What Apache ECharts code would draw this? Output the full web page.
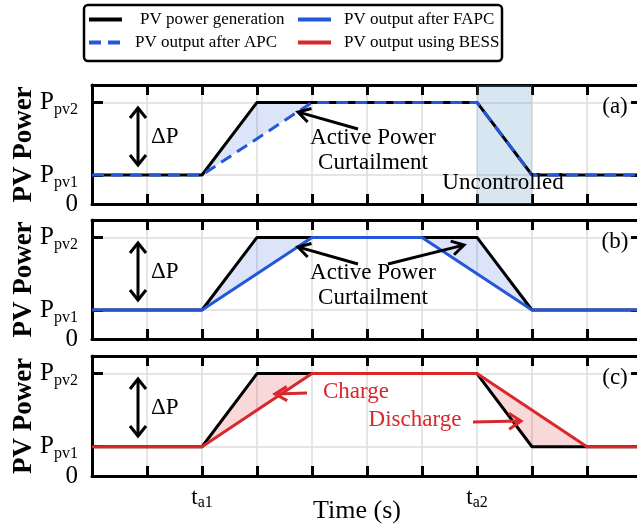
<!DOCTYPE html>
<html><head><meta charset="utf-8">
<script src="https://cdn.jsdelivr.net/npm/echarts@6/dist/echarts.min.js"></script>
<style>html,body{margin:0;padding:0;background:#fff}#c{width:637px;height:531px}</style>
</head><body><div id="c"></div>
<script>
// ---- data (time in grid units, power in relative units: Ppv1 = 2, Ppv2 = 7) ----
const genTime   = [0, 2, 3, 7, 8, 10];
const genPower  = [2, 2, 7, 7, 2, 2];
const apcTime   = [0, 2, 4, 7, 8, 10];
const apcPower  = [2, 2, 7, 7, 2, 2];
const fapcTime  = [0, 2, 4, 6, 8, 10];
const fapcPower = [2, 2, 7, 7, 2, 2];
const bessTime  = [0, 2, 4, 7, 9, 10];
const bessPower = [2, 2, 7, 7, 2, 2];
const uncontrolledRange = [7, 8];
const yTickValues = [0, 2, 7];
const yTickNames  = ['0', 'P_pv1', 'P_pv2'];
const xTickValues = [2, 7];
const xTickNames  = ['t_a1', 't_a2'];
const panelTags   = ['(a)', '(b)', '(c)'];

const FONT = '"Liberation Serif", "Times New Roman", serif';
const BLUE = '#2356d8', RED = '#d9282b';
const grids = [
  {left: 92, top: 85, width: 550, height: 119, outerBoundsMode: 'none'},
  {left: 92, top: 220, width: 550, height: 119, outerBoundsMode: 'none'},
  {left: 92, top: 356, width: 550, height: 120, outerBoundsMode: 'none'}
];
const offs = grids.map(g => g.top - 85);

function pairs(t, v) { return t.map((x, i) => [x, v[i]]); }
function subLabel(name, big, small) {
  const parts = name.split('_');
  if (parts.length === 1) return '{' + big + '|' + parts[0] + '}';
  return '{' + big + '|' + parts[0] + '}{' + small + '|' + parts[1] + '}';
}

const black3 = {color: '#000', width: 3};
const xAxes = [], yAxes = [];
grids.forEach((g, i) => {
  const last = i === grids.length - 1;
  xAxes.push({
    type: 'value', gridIndex: i, min: 0, max: 10, interval: 1, position: 'bottom',
    axisLine: {show: true, onZero: false, lineStyle: black3},
    axisTick: {show: true, inside: true, length: 10, lineStyle: black3},
    splitLine: {show: true, lineStyle: {color: '#dcdcdc', width: 1.5}},
    axisLabel: last ? {
      show: true, customValues: xTickValues, margin: 8, hideOverlap: false,
      formatter: v => subLabel(xTickNames[xTickValues.indexOf(v)] || '', 't', 's'),
      rich: {
        t: {fontFamily: FONT, fontSize: 23, color: '#000'},
        s: {fontFamily: FONT, fontSize: 16, color: '#000', padding: [11, 0, 0, 0]}
      }
    } : {show: false},
    name: last ? 'Time (s)' : '', nameLocation: 'middle', nameGap: 22, nameMoveOverlap: false,
    nameTextStyle: {fontFamily: FONT, fontSize: 26, color: '#000', padding: [0, 20, 0, 0]}
  });
  xAxes.push({
    type: 'value', gridIndex: i, min: 0, max: 10, interval: 1, position: 'top',
    axisLine: {show: true, onZero: false, lineStyle: black3},
    axisTick: {show: true, inside: true, length: 10, lineStyle: black3},
    splitLine: {show: false}, axisLabel: {show: false}
  });
  yAxes.push({
    type: 'value', gridIndex: i, min: 0, max: 8.2, position: 'left',
    axisLine: {show: true, onZero: false, lineStyle: black3},
    axisTick: {show: true, inside: true, length: 11, customValues: yTickValues, lineStyle: black3},
    splitLine: {show: true, lineStyle: {color: '#dcdcdc', width: 1.5}},
    axisLabel: {
      show: true, customValues: yTickValues, margin: 14,
      showMinLabel: true, showMaxLabel: true, hideOverlap: false,
      formatter: v => subLabel(yTickNames[yTickValues.indexOf(v)] || '', 'p', 's'),
      rich: {
        p: {fontFamily: FONT, fontSize: 25, color: '#000'},
        s: {fontFamily: FONT, fontSize: 16, color: '#000', padding: [15, 0, 0, 0]}
      }
    },
    name: 'PV Power', nameLocation: 'middle', nameGap: 54, nameMoveOverlap: false,
    nameTextStyle: {fontFamily: FONT, fontSize: 27, fontWeight: 'bold', color: '#000'}
  });
  yAxes.push({
    type: 'value', gridIndex: i, min: 0, max: 8.2, position: 'right',
    axisLine: {show: true, onZero: false, lineStyle: black3},
    axisTick: {show: true, inside: true, length: 11, customValues: yTickValues, lineStyle: black3},
    splitLine: {show: false}, axisLabel: {show: false}
  });
});

function lineSeries(name, i, t, v, color, type, z) {
  return {
    name: name, type: 'line', xAxisIndex: 2 * i, yAxisIndex: 2 * i,
    data: pairs(t, v), symbol: 'none', showSymbol: false, z: z,
    lineStyle: {color: color, width: 3, type: type || 'solid'},
    itemStyle: {color: color}, emphasis: {disabled: true}, animation: false
  };
}
function fillSeries(i, t, v, color) {
  return {
    type: 'custom', xAxisIndex: 2 * i, yAxisIndex: 2 * i, data: [[0, 0]], z: 1, silent: true,
    animation: false,
    renderItem: (params, api) => {
      const pts = pairs(genTime, genPower).concat(pairs(t, v).reverse()).map(p => api.coord(p));
      return {type: 'polygon', shape: {points: pts}, style: {fill: color}};
    }
  };
}

const series = [
  {type: 'line', xAxisIndex: 0, yAxisIndex: 0, data: [], z: 0, silent: true,
   markArea: {silent: true, itemStyle: {color: 'rgba(100,160,200,0.26)'},
              data: [[{xAxis: uncontrolledRange[0]}, {xAxis: uncontrolledRange[1]}]]}},
  fillSeries(0, apcTime, apcPower, 'rgba(35,86,216,0.16)'),
  lineSeries('PV power generation', 0, genTime, genPower, '#000', 'solid', 3),
  lineSeries('PV output after APC', 0, apcTime, apcPower, BLUE, [12, 7], 4),
  fillSeries(1, fapcTime, fapcPower, 'rgba(35,86,216,0.16)'),
  lineSeries('PV power generation', 1, genTime, genPower, '#000', 'solid', 3),
  lineSeries('PV output after FAPC', 1, fapcTime, fapcPower, BLUE, 'solid', 4),
  fillSeries(2, bessTime, bessPower, 'rgba(217,40,43,0.18)'),
  lineSeries('PV power generation', 2, genTime, genPower, '#000', 'solid', 3),
  lineSeries('PV output using BESS', 2, bessTime, bessPower, RED, 'solid', 4)
];

const legendText = {fontFamily: FONT, fontSize: 17, color: '#000'};
function legendItem(name, left, top, pad) {
  return {
    data: [name], left: left, top: top, padding: 0, itemWidth: 33, itemHeight: 14, itemGap: 0,
    selectedMode: false, lineStyle: {width: 4}, itemStyle: {opacity: 0},
    textStyle: Object.assign({}, legendText, {padding: [0, 0, 0, pad]})
  };
}

// ---- annotation helpers (pixel positions) ----
function arrow(x1, y1, x2, y2, color, hl, hw) {
  hl = hl || 11; hw = hw || 7;
  const dx = x2 - x1, dy = y2 - y1, L = Math.hypot(dx, dy);
  const ux = dx / L, uy = dy / L, nx = -uy, ny = ux;
  const bx = x2 - ux * hl, by = y2 - uy * hl;
  return [
    {type: 'line', z: 100, shape: {x1: x1, y1: y1, x2: x2 - ux * 1.5, y2: y2 - uy * 1.5},
     style: {stroke: color, lineWidth: 3}},
    {type: 'polyline', z: 100, shape: {points: [[bx + nx * hw, by + ny * hw], [x2, y2], [bx - nx * hw, by - ny * hw]]},
     style: {stroke: color, lineWidth: 3, fill: null}}
  ];
}
function txt(x, y, s, size, color, align) {
  return {type: 'text', z: 100, x: x, y: y,
    style: {text: s, fontFamily: FONT, fontSize: size, fill: color || '#000',
            align: align || 'center', verticalAlign: 'middle', lineHeight: 25}};
}

let graphics = [
  {type: 'rect', z: 100, shape: {x: 84, y: 5, width: 418, height: 56, r: 4},
   style: {stroke: '#000', lineWidth: 2.5, fill: null}}
];
offs.forEach((o, i) => {
  graphics = graphics.concat(arrow(138, 136 + o, 138, 108 + o, '#000', 10, 8));
  graphics = graphics.concat(arrow(138, 136 + o, 138, 165 + o, '#000', 10, 8));
  graphics.push(txt(151, 137 + o, 'ΔP', 23, '#000', 'left'));
  graphics.push(txt(615, 107 + o, panelTags[i], 23, '#000'));
});
graphics.push(txt(373, 150.5, 'Active Power\nCurtailment', 23));
graphics = graphics.concat(arrow(358, 129, 298, 112, '#000', 12, 7));
graphics.push(txt(503, 183, 'Uncontrolled', 23));
graphics.push(txt(373, 285.5, 'Active Power\nCurtailment', 23));
graphics = graphics.concat(arrow(358, 264, 298, 247, '#000', 12, 7));
graphics = graphics.concat(arrow(388, 264, 464, 245, '#000', 12, 7));
graphics.push(txt(356, 392, 'Charge', 23, RED));
graphics = graphics.concat(arrow(307, 393, 275, 394, RED, 12, 7));
graphics.push(txt(415, 420, 'Discharge', 23, RED));
graphics = graphics.concat(arrow(473, 422, 521, 421, RED, 12, 8));

const chart = echarts.init(document.getElementById('c'));
chart.setOption({
  animation: false,
  backgroundColor: '#fff',
  grid: grids,
  xAxis: xAxes,
  yAxis: yAxes,
  legend: [
    legendItem('PV power generation', 87, 11, 13),
    legendItem('PV output after FAPC', 296, 11, 8),
    legendItem('PV output after APC', 87, 34, 8),
    legendItem('PV output using BESS', 296, 34, 8)
  ],
  series: series,
  graphic: graphics
});
</script>
</body></html>
